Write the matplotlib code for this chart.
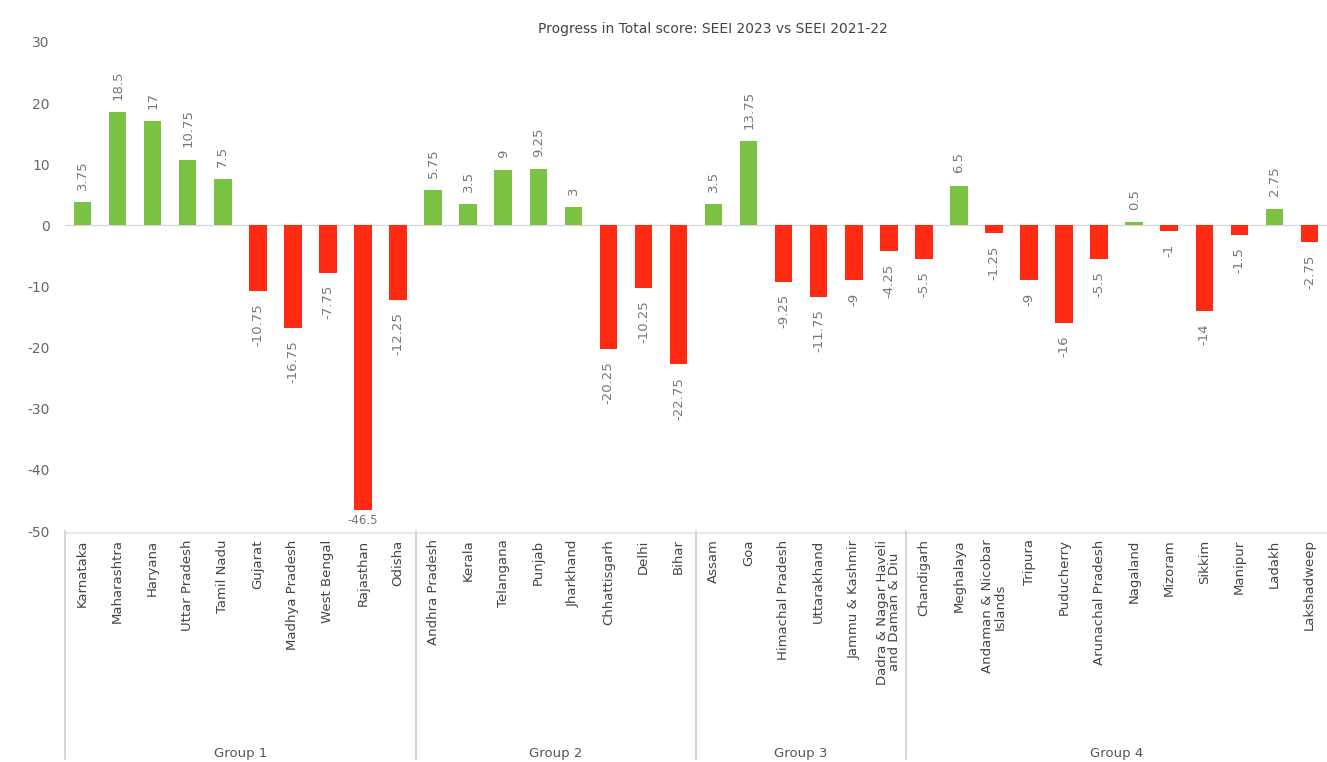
import matplotlib.pyplot as plt
import matplotlib.transforms as mtransforms

plt.rcParams["axes.unicode_minus"] = False

# -- Data ----------------------------------------------------------------------
group_names = ["Group 1", "Group 2", "Group 3", "Group 4"]

group1_states = ["Karnataka", "Maharashtra", "Haryana", "Uttar Pradesh", "Tamil Nadu",
                 "Gujarat", "Madhya Pradesh", "West Bengal", "Rajasthan", "Odisha"]
group1_values = [3.75, 18.5, 17, 10.75, 7.5, -10.75, -16.75, -7.75, -46.5, -12.25]

group2_states = ["Andhra Pradesh", "Kerala", "Telangana", "Punjab", "Jharkhand",
                 "Chhattisgarh", "Delhi", "Bihar"]
group2_values = [5.75, 3.5, 9, 9.25, 3, -20.25, -10.25, -22.75]

group3_states = ["Assam", "Goa", "Himachal Pradesh", "Uttarakhand", "Jammu & Kashmir",
                 "Dadra & Nagar Haveli\nand Daman & Diu"]
group3_values = [3.5, 13.75, -9.25, -11.75, -9, -4.25]

group4_states = ["Chandigarh", "Meghalaya", "Andaman & Nicobar\nIslands", "Tripura",
                 "Puducherry", "Arunachal Pradesh", "Nagaland", "Mizoram", "Sikkim",
                 "Manipur", "Ladakh", "Lakshadweep"]
group4_values = [-5.5, 6.5, -1.25, -9, -16, -5.5, 0.5, -1, -14, -1.5, 2.75, -2.75]

GREEN = "#7cc242"
RED = "#ff2a12"
GREY = "#777777"


def fmt(v):
    return f"{v:g}"


def main() -> None:
    groups = [
        (group1_states, group1_values),
        (group2_states, group2_values),
        (group3_states, group3_values),
        (group4_states, group4_values),
    ]
    states = [s for g in groups for s in g[0]]
    values = [v for g in groups for v in g[1]]
    sizes = [len(g[0]) for g in groups]
    x = list(range(len(states)))

    fig = plt.figure(figsize=(13.27, 7.62), dpi=100)
    ax = fig.add_axes([0.049, 0.303, 0.951, 0.642])

    colors = [GREEN if v >= 0 else RED for v in values]
    ax.bar(x, values, width=0.5, color=colors, zorder=2)
    ax.axhline(0, color="#d8d8d8", linewidth=1, zorder=1)

    # value labels
    for xi, v in zip(x, values):
        if v <= -40:
            ax.text(xi, v - 0.7, fmt(v), ha="center", va="top",
                    fontsize=8.5, color=GREY)
        elif v >= 0:
            ax.text(xi, v + 2.0, fmt(v), ha="center", va="bottom",
                    rotation=90, fontsize=9.5, color=GREY)
        else:
            ax.text(xi, v - 2.0, fmt(v), ha="center", va="top",
                    rotation=90, fontsize=9.5, color=GREY)

    ax.set_xlim(-0.5, len(states) - 0.5)
    ax.set_ylim(-50, 30)
    ax.set_yticks(range(-50, 31, 10))
    ax.set_xticks(x)
    ax.set_xticklabels(states, rotation=90, fontsize=9.5, color="#444444",
                       va="top", ha="center", linespacing=0.9)
    ax.tick_params(axis="x", length=0, pad=6)
    ax.tick_params(axis="y", length=0, labelsize=10, colors="#666666", pad=11)
    for sp in ax.spines.values():
        sp.set_visible(False)

    # category axis frame with group separators
    trans = mtransforms.blended_transform_factory(ax.transData, ax.transAxes)
    ax.plot([-0.5, len(states) - 0.5], [-0.003, -0.003], transform=trans,
            color="#e3e3e3", linewidth=1.2, clip_on=False)
    edge = -0.5
    bounds = [edge]
    for n in sizes:
        edge += n
        bounds.append(edge)
    for b in bounds[:-1]:
        ax.plot([b, b], [0, -0.465], transform=trans, color="#d0d0d0",
                linewidth=1.2, clip_on=False)
    for name, lo, hi in zip(group_names, bounds[:-1], bounds[1:]):
        ax.text((lo + hi) / 2, -0.455, name, transform=trans, ha="center",
                va="center", fontsize=9.5, color="#555555")

    fig.text(0.537, 0.962, "Progress in Total score: SEEI 2023 vs SEEI 2021-22",
             ha="center", va="center", fontsize=10, color="#444444")

    fig.savefig("out.png", dpi=100)
    plt.close(fig)


if __name__ == "__main__":
    main()
